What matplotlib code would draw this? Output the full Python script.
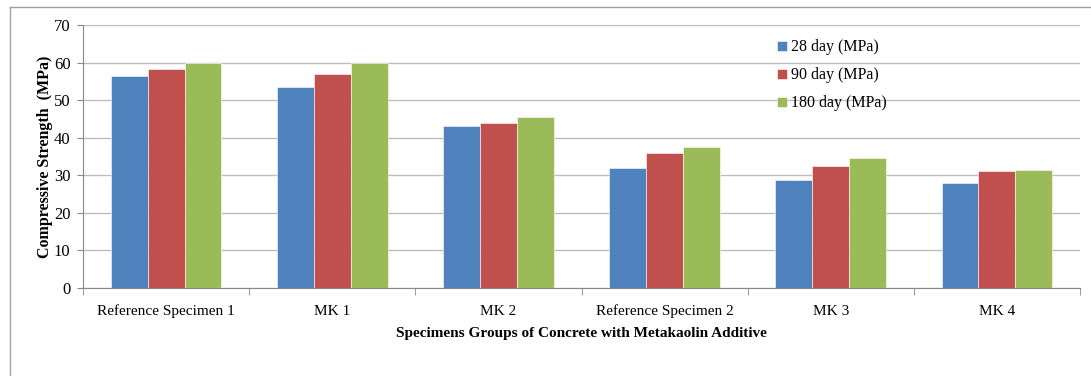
import numpy as np
import matplotlib.pyplot as plt
from matplotlib.lines import Line2D

categories = ['Reference Specimen 1', 'MK 1', 'MK 2', 'Reference Specimen 2', 'MK 3', 'MK 4']
day28 = [56.4, 53.6, 43.0, 32.0, 28.7, 27.9]
day90 = [58.2, 56.9, 43.9, 36.0, 32.6, 31.1]
day180 = [59.9, 59.9, 45.6, 37.5, 34.7, 31.4]
series_labels = ['28 day (MPa)', '90 day (MPa)', '180 day (MPa)']
colors = ['#4F81BD', '#C0504D', '#9BBB59']

plt.rcParams['font.family'] = ['Liberation Serif', 'DejaVu Serif']

W, H = 1091, 376
fig = plt.figure(figsize=(W / 100, H / 100), dpi=100)
ax = fig.add_axes([83 / W, 1 - 288 / H, (1080 - 83) / W, (288 - 25) / H])

# outer chart frame (only top and left edges visible)
fig.lines.append(Line2D([10 / W, 1.0], [1 - 7 / H, 1 - 7 / H], transform=fig.transFigure,
                        color='#A0A0A0', linewidth=1))
fig.lines.append(Line2D([10 / W, 10 / W], [0, 1 - 7 / H], transform=fig.transFigure,
                        color='#A0A0A0', linewidth=1))

x = np.arange(len(categories))
bw = 0.222
for i, (vals, lab, col) in enumerate(zip([day28, day90, day180], series_labels, colors)):
    ax.bar(x + (i - 1) * bw, vals, bw, color=col, label=lab,
           edgecolor='white', linewidth=0.4, zorder=3)

ax.set_xlim(-0.5, len(categories) - 0.5)
ax.set_ylim(0, 70)
ax.set_yticks(range(0, 71, 10))
ax.set_xticks(x)
ax.set_xticklabels(categories, fontsize=11)
ax.set_xticks(np.arange(-0.5, len(categories), 1), minor=True)
ax.tick_params(axis='x', which='major', length=0, pad=12)
ax.tick_params(axis='x', which='minor', length=5, color='#888888')
ax.tick_params(axis='y', labelsize=12, length=4, color='#888888', pad=5)

ax.yaxis.grid(True, color='#BDBDBD', linewidth=1, zorder=0)
for s in ['top', 'right']:
    ax.spines[s].set_visible(False)
for s in ['left', 'bottom']:
    ax.spines[s].set_color('#888888')

ax.set_ylabel('Compressive Strength  (MPa)', fontsize=11.5, fontweight='bold')
ax.yaxis.set_label_coords(-0.030, 0.5)
ax.set_xlabel('Specimens Groups of Concrete with Metakaolin Additive', fontsize=11,
              fontweight='bold', labelpad=6)

leg = ax.legend(loc='upper left', bbox_to_anchor=(0.69, 0.97), frameon=False,
                fontsize=11.5, handlelength=0.6, handleheight=0.6, handletextpad=0.25,
                labelspacing=0.75, borderaxespad=0)

fig.savefig('out.png', dpi=100)
